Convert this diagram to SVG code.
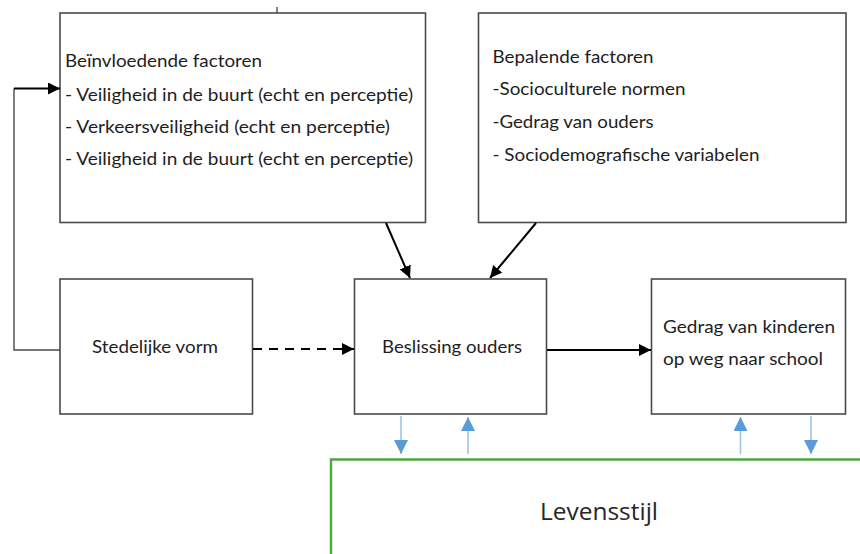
<svg xmlns="http://www.w3.org/2000/svg" width="860" height="554" viewBox="0 0 860 554">
  <style>
    .box { fill: #ffffff; stroke: #4a4a4a; stroke-width: 1.6; }
    .t { font-family: Lato, "Open Sans", "Liberation Sans", sans-serif; font-size: 16.5px; fill: #1e1e1e; }
    .c { text-anchor: middle; }
    .flow { stroke: #000; stroke-width: 2; fill: none; }
    .thin { stroke: #4a4a4a; stroke-width: 1.4; fill: none; }
    .blue { stroke: #9dc3e6; stroke-width: 1.6; fill: none; }
  </style>
  <defs>
    <marker id="ah" viewBox="0 0 10 10" refX="10" refY="5" markerWidth="6" markerHeight="6" markerUnits="strokeWidth" orient="auto">
      <path d="M0,0 L10,5 L0,10 z" fill="#000"/>
    </marker>
    <marker id="ab" viewBox="0 0 10 10" refX="10" refY="5" markerWidth="14" markerHeight="14" markerUnits="userSpaceOnUse" orient="auto">
      <path d="M0,0 L10,5 L0,10 z" fill="#5b9bd5"/>
    </marker>
  </defs>

  <rect width="860" height="554" fill="#ffffff"/>

  <!-- small tick above the first box -->
  <line x1="277" y1="7" x2="277" y2="13" stroke="#333" stroke-width="1.2"/>

  <g id="beinvloedende">
    <rect class="box" x="60" y="13" width="365.5" height="209.5"/>
    <text class="t" x="65" y="67" textLength="197" lengthAdjust="spacingAndGlyphs">Beïnvloedende factoren</text>
    <text class="t" x="65" y="101" textLength="348" lengthAdjust="spacingAndGlyphs">- Veiligheid in de buurt (echt en perceptie)</text>
    <text class="t" x="65" y="133" textLength="325" lengthAdjust="spacingAndGlyphs">- Verkeersveiligheid (echt en perceptie)</text>
    <text class="t" x="65" y="165" textLength="348" lengthAdjust="spacingAndGlyphs">- Veiligheid in de buurt (echt en perceptie)</text>
  </g>

  <g id="bepalende">
    <rect class="box" x="478.5" y="13" width="367.5" height="209.5"/>
    <text class="t" x="492.5" y="63" textLength="161" lengthAdjust="spacingAndGlyphs">Bepalende factoren</text>
    <text class="t" x="492.5" y="95" textLength="193" lengthAdjust="spacingAndGlyphs">-Socioculturele normen</text>
    <text class="t" x="492.5" y="128" textLength="161" lengthAdjust="spacingAndGlyphs">-Gedrag van ouders</text>
    <text class="t" x="492.5" y="161" textLength="267" lengthAdjust="spacingAndGlyphs">- Sociodemografische variabelen</text>
  </g>

  <g id="stedelijke">
    <rect class="box" x="60" y="279" width="192.5" height="135"/>
    <text class="t" x="92" y="353" textLength="126" lengthAdjust="spacingAndGlyphs">Stedelijke vorm</text>
  </g>

  <g id="beslissing">
    <rect class="box" x="354.5" y="279" width="192" height="135"/>
    <text class="t" x="382" y="353" textLength="140" lengthAdjust="spacingAndGlyphs">Beslissing ouders</text>
  </g>

  <g id="gedrag">
    <rect class="box" x="651.5" y="279" width="194" height="135"/>
    <text class="t" x="663" y="333" textLength="172" lengthAdjust="spacingAndGlyphs">Gedrag van kinderen</text>
    <text class="t" x="663" y="365" textLength="160" lengthAdjust="spacingAndGlyphs">op weg naar school</text>
  </g>

  <g id="levensstijl">
    <path d="M331,554 V459.5 H860" fill="none" stroke="#4aa83c" stroke-width="2.4"/>
    <text x="540" y="520" textLength="118" lengthAdjust="spacingAndGlyphs" font-family="'Open Sans', Lato, 'Liberation Sans', sans-serif" font-size="24px" fill="#262626">Levensstijl</text>
  </g>

  <g id="connectors">
    <!-- feedback loop from Stedelijke vorm to the influencing factors -->
    <path class="thin" d="M60,350 H14 V88.5"/>
    <line class="flow" x1="14" y1="88.5" x2="60" y2="88.5" marker-end="url(#ah)"/>
    <!-- factors into the parents' decision -->
    <line class="flow" x1="386" y1="223" x2="410" y2="278" marker-end="url(#ah)"/>
    <line class="flow" x1="536" y1="223" x2="490" y2="278" marker-end="url(#ah)"/>
    <!-- urban form to decision (dashed) -->
    <line class="flow" x1="253" y1="349" x2="354" y2="349" stroke-dasharray="9,7" marker-end="url(#ah)"/>
    <!-- decision to children's behaviour -->
    <line class="flow" x1="547" y1="350" x2="651" y2="350" marker-end="url(#ah)"/>
    <!-- lifestyle exchanges -->
    <line class="blue" x1="401" y1="416" x2="401" y2="454" marker-end="url(#ab)"/>
    <line class="blue" x1="468" y1="454" x2="468" y2="417" marker-end="url(#ab)"/>
    <line class="blue" x1="740.5" y1="454" x2="740.5" y2="417" marker-end="url(#ab)"/>
    <line class="blue" x1="811" y1="416" x2="811" y2="454" marker-end="url(#ab)"/>
  </g>
</svg>
